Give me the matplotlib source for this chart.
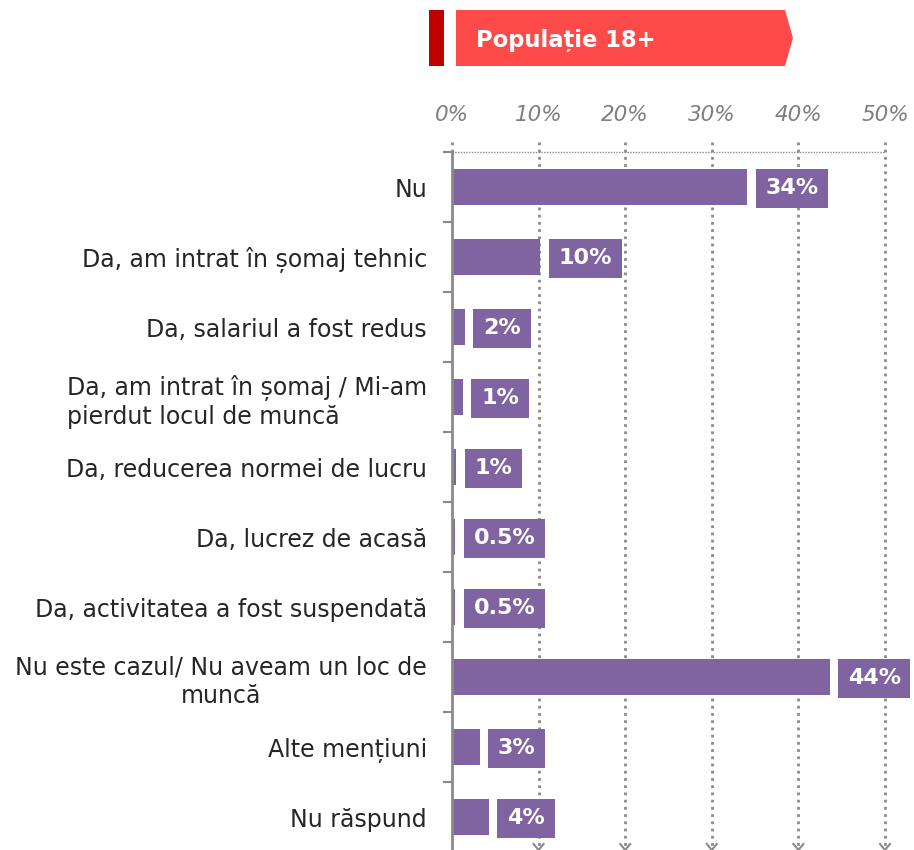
import matplotlib
matplotlib.use("Agg")
import matplotlib.pyplot as plt
from matplotlib.patches import Polygon, Rectangle

categories = [
    "Nu",
    "Da, am intrat în șomaj tehnic",
    "Da, salariul a fost redus",
    "Da, am intrat în șomaj / Mi-am\npierdut locul de muncă",
    "Da, reducerea normei de lucru",
    "Da, lucrez de acasă",
    "Da, activitatea a fost suspendată",
    "Nu este cazul/ Nu aveam un loc de\nmuncă",
    "Alte mențiuni",
    "Nu răspund",
]
values = [34.1, 10.2, 1.5, 1.3, 0.5, 0.4, 0.4, 43.6, 3.2, 4.3]
value_labels = ["34%", "10%", "2%", "1%", "1%", "0.5%", "0.5%", "44%", "3%", "4%"]
ticks = [0, 10, 20, 30, 40, 50]
tick_labels = ["0%", "10%", "20%", "30%", "40%", "50%"]
header = "Populație 18+"

purple = "#8064A2"
W, H = 914, 850
fig = plt.figure(figsize=(W / 100, H / 100), dpi=100)
plt.rcParams['font.family'] = ['DejaVu Sans']

ax_left, ax_right, ax_top, ax_bot = 452, 885, 152, 852
ax = fig.add_axes([ax_left / W, 1 - ax_bot / H, (ax_right - ax_left) / W, (ax_bot - ax_top) / H])
ax.set_xlim(0, 50)
ax.set_ylim(len(categories) - 0.5, -0.5)
for s in ax.spines.values():
    s.set_visible(False)
ax.set_xticks([])
ax.set_yticks(range(len(categories)))
ax.set_yticklabels(categories, fontsize=17, color="#262626", ha="right", linespacing=1.25)
ax.tick_params(axis="y", length=0, pad=18)
for i, lab in enumerate(ax.get_yticklabels()):
    lab.set_multialignment("center" if i == 7 else "left")

# bars
ypos = list(range(len(categories)))
ax.barh(ypos, values, height=0.51, color=purple, zorder=3)

# value labels
px_per_unit = (ax_right - ax_left) / 50.0
for y, v, lab in zip(ypos, values, value_labels):
    x0 = v + 18 / px_per_unit
    ax.text(x0, y + 0.02, lab, ha="left", va="center", fontsize=16, fontweight="bold", color="white",
            zorder=5, clip_on=False,
            bbox=dict(boxstyle="square,pad=0.44", facecolor=purple, edgecolor="none"))

# vertical axis line and ticks
ax.plot([0, 0], [-0.5, len(categories) - 0.5], color="#8a8a8a", lw=2, zorder=4, clip_on=False)
for b in [i - 0.5 for i in range(len(categories))]:
    ax.plot([-8 / px_per_unit, 0], [b, b], color="#8a8a8a", lw=1.5, zorder=4, clip_on=False)

# top dotted horizontal line
ax.plot([0, 50], [-0.5, -0.5], color="#8a8a8a", lw=1, ls=(0, (1, 1)), zorder=2, clip_on=False)

# vertical dotted gridlines with arrows
ytop = -0.5 - 10 / 70.0
ybot = len(categories) - 0.5 - 2 / 70.0
for t in ticks[1:]:
    ax.plot([t, t], [ytop, ybot], color="#8a8a8a", lw=2, ls=(0, (1, 1.6)), zorder=1, clip_on=False)
    ax.plot([t - 5 / px_per_unit, t, t + 5 / px_per_unit], [ybot - 6 / 70, ybot, ybot - 6 / 70],
            color="#8a8a8a", lw=1.5, zorder=1, clip_on=False)
ax.plot([0, 0], [ytop, -0.5], color="#8a8a8a", lw=2, ls=(0, (1, 1.6)), clip_on=False)

# top tick labels
for t, lab in zip(ticks, tick_labels):
    fig.text((ax_left + t * px_per_unit) / W, 1 - 115 / H, lab, ha="center", va="center",
             fontsize=15.5, style="italic", color="#7f7f7f")

# header
hx0, hx1, hy0, hy1 = 456, 793, 10, 66
tip = 8
poly = Polygon([(hx0 / W, 1 - hy0 / H), ((hx1 - tip) / W, 1 - hy0 / H), (hx1 / W, 1 - (hy0 + hy1) / 2 / H),
                ((hx1 - tip) / W, 1 - hy1 / H), (hx0 / W, 1 - hy1 / H)],
               closed=True, transform=fig.transFigure, facecolor="#FF4A4A", edgecolor="none")
fig.patches.append(poly)
fig.patches.append(Rectangle((429 / W, 1 - 66 / H), 15 / W, 56 / H, transform=fig.transFigure,
                             facecolor="#C00000", edgecolor="none"))
fig.text(476 / W, 1 - 41 / H, header, ha="left", va="center", fontsize=16.3, fontweight="bold", color="white")

fig.savefig("out.png", dpi=100)
